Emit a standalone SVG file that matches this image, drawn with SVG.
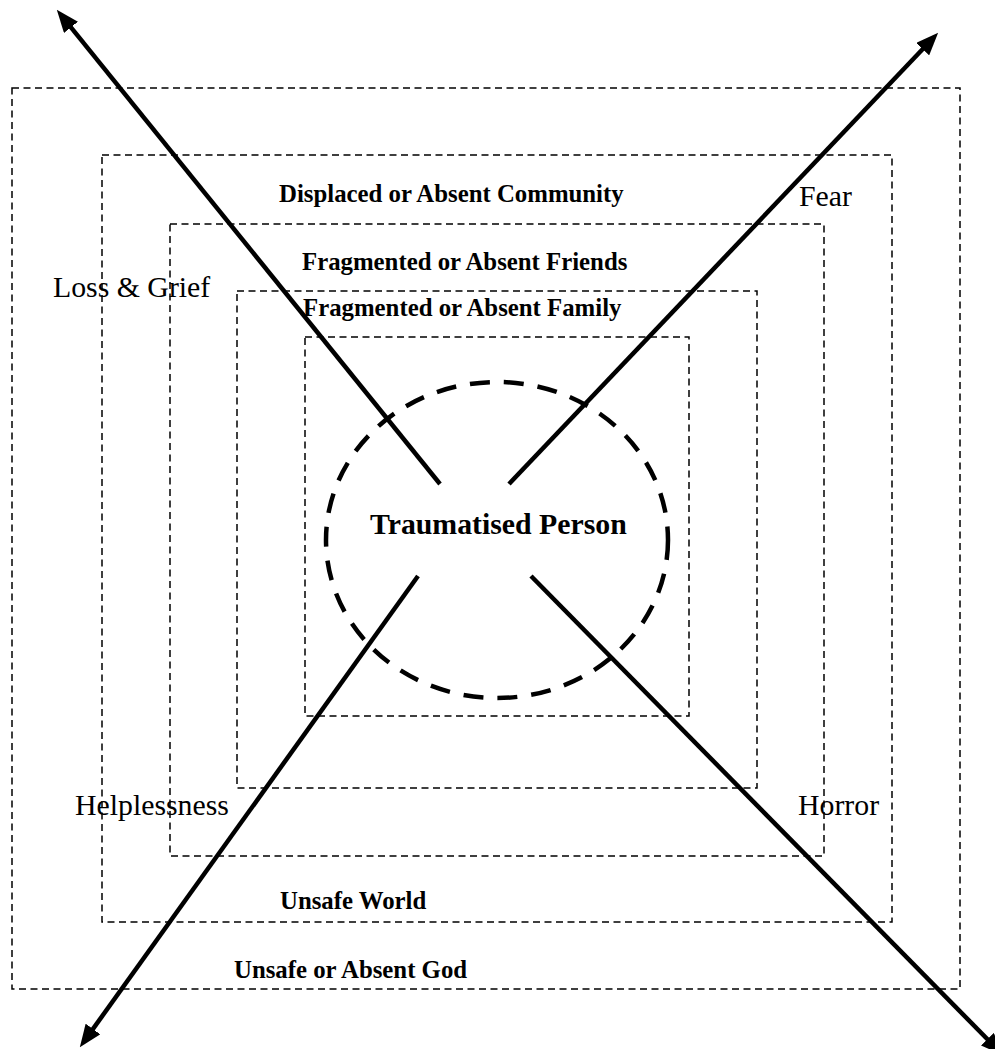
<svg xmlns="http://www.w3.org/2000/svg" width="995" height="1049" viewBox="0 0 995 1049">
<defs>
<style>
.box{fill:none;stroke:#000;stroke-width:1.5;stroke-dasharray:7 4.5}
.lbl{font-family:"Liberation Serif","Times New Roman",serif;font-weight:bold;font-size:24.8px;fill:#000}
.emo{font-family:"Liberation Serif","Times New Roman",serif;font-size:29.8px;fill:#000}
.arrow{stroke:#000;stroke-width:4.5;fill:none;marker-end:url(#ah)}
</style>
<marker id="ah" viewBox="0 0 10 8" refX="5" refY="4" markerWidth="5" markerHeight="4" orient="auto" markerUnits="strokeWidth">
<path d="M0,0 L10,4 L0,8 z" fill="#000"/>
</marker>
</defs>
<rect width="995" height="1049" fill="#fff"/>
<g id="god"><rect class="box" x="12" y="88" width="948" height="901"/><text class="lbl" x="234" y="978">Unsafe or Absent God</text></g>
<g id="world"><rect class="box" x="102" y="155" width="790" height="767"/><text class="lbl" x="280" y="909">Unsafe World</text></g>
<g id="community"><text class="lbl" x="279" y="202">Displaced or Absent Community</text></g>
<g id="friends"><rect class="box" x="170" y="224" width="654" height="632"/><text class="lbl" x="302" y="270">Fragmented or Absent Friends</text></g>
<g id="family"><rect class="box" x="237" y="291" width="520" height="497"/><text class="lbl" x="303" y="316">Fragmented or Absent Family</text></g>
<g id="inner"><rect class="box" x="305" y="337" width="384" height="379"/></g>
<g id="person">
<ellipse cx="497" cy="540" rx="171" ry="158" fill="none" stroke="#000" stroke-width="4.5" stroke-dasharray="20 14"/>
<text x="370" y="534" font-family="Liberation Serif, Times New Roman, serif" font-weight="bold" font-size="29.8" fill="#000">Traumatised Person</text>
</g>
<g id="emotions">
<text class="emo" x="53" y="297">Loss &amp; Grief</text>
<text class="emo" x="799" y="206">Fear</text>
<text class="emo" x="75" y="815">Helplessness</text>
<text class="emo" x="798" y="815">Horror</text>
</g>
<g id="connectors">
<line class="arrow" x1="440" y1="484" x2="63.9" y2="18.6"/>
<line class="arrow" x1="509" y1="484" x2="930.4" y2="41"/>
<line class="arrow" x1="418" y1="576" x2="86.4" y2="1038.1"/>
<line class="arrow" x1="531" y1="576" x2="995.3" y2="1047.2"/>
</g>
</svg>
